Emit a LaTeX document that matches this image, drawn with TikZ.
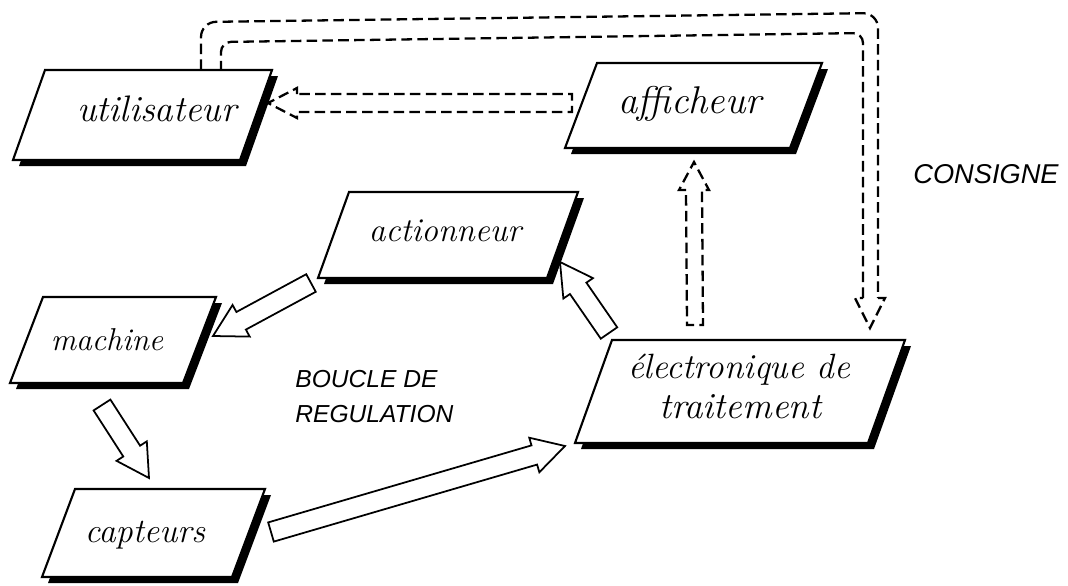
\documentclass[tikz,border=0pt]{standalone}
\usepackage{fontspec}
\newfontfamily\hv{Liberation Sans}
\usetikzlibrary{calc}
\def\shw{0.2cm}
\def\hhw{0.36cm}
\def\hl{0.64cm}
\newcommand\slbox[5]{%
  \fill[boxshadow,shift={(6,6)}] (#1,#2) -- ++(#3,0) -- ++(#5,-#4) -- ++(-#3,0) -- cycle;
  \draw[boxline,fill=white] (#1,#2) -- ++(#3,0) -- ++(#5,-#4) -- ++(-#3,0) -- cycle;}
\newcommand\hollowarrow[2]{%
  \coordinate (nk) at ($(#2)!\hl!(#1)$);
  \draw[blockarr] ($(#1)!\shw!90:(#2)$) -- ($(nk)!\shw!-90:(#1)$) -- ($(nk)!\hhw!-90:(#1)$)
    -- (#2) -- ($(nk)!\hhw!90:(#1)$) -- ($(nk)!\shw!90:(#1)$) -- ($(#1)!\shw!-90:(#2)$) -- cycle;}
\newcommand\hfs[1]{\itshape\fontsize{#1}{#1}\selectfont}
\begin{document}
\begin{tikzpicture}[x=0.02cm,y=-0.02cm,
  boxline/.style={line width=1.2pt, line join=miter},
  boxshadow/.style={fill=black},
  hand/.style={inner sep=0pt, anchor=base},
  caps/.style={font=\hv\itshape\fontsize{14}{17}\selectfont, inner sep=0pt, anchor=base west},
  blockarr/.style={draw=black, fill=white, line width=1pt, line join=miter},
  dashline/.style={line width=1.3pt, dash pattern=on 6pt off 3pt},
]
\useasboundingbox (0,0) rectangle (1068,585);

% boxes
\slbox{13}{160}{227}{90}{32}
\slbox{565}{148}{225}{85}{32}
\slbox{318}{278}{229}{86}{31}
\slbox{10}{383}{173}{86}{33}
\slbox{42}{577}{190}{88}{33}
\slbox{575}{443}{293}{103}{37}

% box labels
\node[hand, font=\hfs{21}] (util) at (157,121) {utilisateur};
\node[hand, font=\hfs{22}] (affi) at (690,113) {afficheur};
\node[hand, font=\hfs{19}] (acti) at (445,241) {actionneur};
\node[hand, font=\hfs{18}] (mach) at (107,350) {machine};
\node[hand, font=\hfs{19.5}] (capt) at (145,542) {capteurs};
\node[hand, font=\hfs{20}] (elec1) at (739,378) {électronique de};
\node[hand, font=\hfs{21}] (elec2) at (740,418) {traitement};

% free labels
\node[caps, font=\hv\itshape\fontsize{15.5}{18}\selectfont] (consigne) at (913,183) {CONSIGNE};
\node[caps] (boucle1) at (295,387) {BOUCLE DE};
\node[caps] (boucle2) at (295,422) {REGULATION};

% hollow block arrows of the loop
\coordinate (aA1) at (311,283); \coordinate (aA2) at (213,336);
\coordinate (aB1) at (102,405); \coordinate (aB2) at (149,478);
\coordinate (aC1) at (271,532); \coordinate (aC2) at (565,446);
\coordinate (aD1) at (609,333); \coordinate (aD2) at (560,262);
\hollowarrow{aA1}{aA2}
\hollowarrow{aB1}{aB2}
\hollowarrow{aC1}{aC2}
\hollowarrow{aD1}{aD2}

% dashed arrow afficheur -> utilisateur
\coordinate (eT) at (268,103); \coordinate (eS) at (572,103);
\draw[dashline] ($(eT)+(29,-9)$) -- ($(eT)+(29,-15)$) -- (eT) -- ($(eT)+(29,15)$) -- ($(eT)+(29,9)$)
  -- ($(eS)+(0,9)$) -- ($(eS)+(0,-9)$) -- cycle;

% dashed arrow electronique -> afficheur
\coordinate (fT) at (694,162); \coordinate (fS) at (695,325);
\draw[dashline] ($(fT)+(-8,28)$) -- ($(fT)+(-15,28)$) -- (fT) -- ($(fT)+(15,28)$) -- ($(fT)+(8,28)$)
  -- ($(fS)+(8,0)$) -- ($(fS)+(-8,0)$) -- cycle;

% dashed CONSIGNE arrow utilisateur -> electronique
\coordinate (gU1) at (201,70); \coordinate (gU2) at (221,70); \coordinate (gT) at (870,328);
\draw[dashline, rounded corners=0.3cm] (gU1) -- (201,22) -- (878,13) -- (878,298);
\draw[dashline, rounded corners=0.2cm] (863,298) -- (863,33) -- (221,42) -- (gU2);
\draw[dashline] (878,298) -- (885,298) -- (gT) -- (855,298) -- (863,298);
\end{tikzpicture}
\end{document}
